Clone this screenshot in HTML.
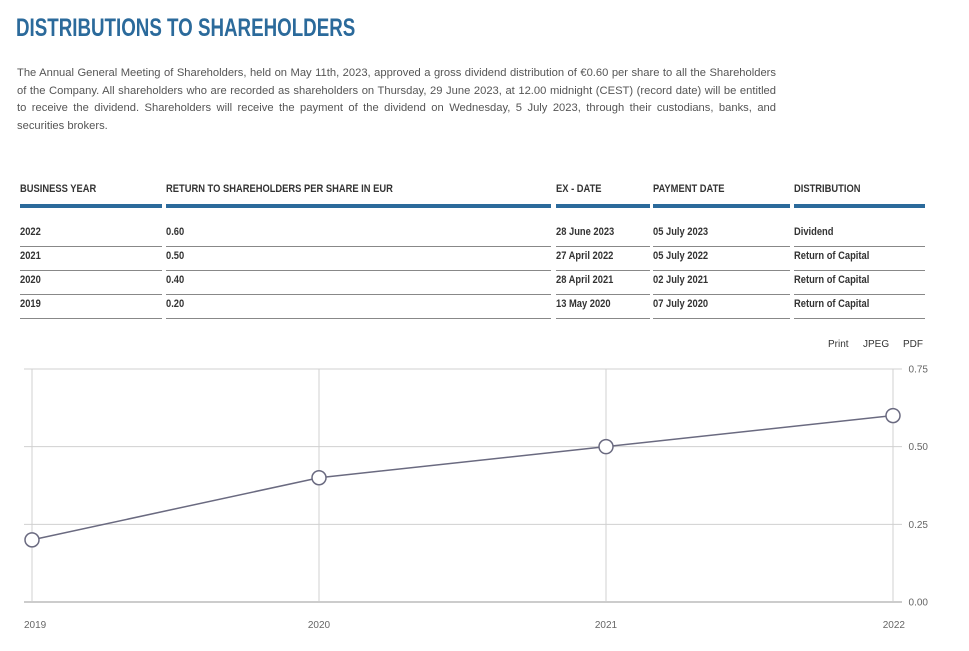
<!DOCTYPE html>
<html><head><meta charset="utf-8">
<style>
body{margin:0;width:969px;height:651px;background:#fff;position:relative;overflow:hidden;font-family:"Liberation Sans",sans-serif}
.a{position:absolute}
#title{left:16px;top:14px;font-size:25px;font-weight:bold;color:#2b6a9b;transform:scaleX(0.75);transform-origin:0 0;white-space:nowrap}
#para{left:17px;top:65px;width:759px;font-size:11.2px;line-height:17.6px;color:#555;text-align:justify}
.th,.td{font-weight:bold;font-size:11px;color:#333;white-space:nowrap;transform:scaleX(0.85);transform-origin:0 0}
.bar{height:4px;background:#2b6a9b}
.sep{height:1px;background:#888}
.t{font-size:10px;color:#666}
</style></head><body>
<div class="a" id="title">DISTRIBUTIONS TO SHAREHOLDERS</div>
<div class="a" id="para">The Annual General Meeting of Shareholders, held on May 11th, 2023, approved a gross dividend distribution of €0.60 per share to all the Shareholders of the Company. All shareholders who are recorded as shareholders on Thursday, 29 June 2023, at 12.00 midnight (CEST) (record date) will be entitled to receive the dividend. Shareholders will receive the payment of the dividend on Wednesday, 5 July 2023, through their custodians, banks, and securities brokers.</div>
<div id="table"></div>
<div class="a t" style="left:828px;top:339px;font-size:10px;color:#333">Print</div>
<div class="a t" style="left:863px;top:339px;font-size:10px;color:#333">JPEG</div>
<div class="a t" style="left:903px;top:339px;font-size:10px;color:#333">PDF</div>
<svg class="a" style="left:0;top:0" width="969" height="651" id="chart"></svg>
<script>
const cols=[[20,162],[166,551],[556,650],[653,790],[794,925]];
const headers=["BUSINESS YEAR","RETURN TO SHAREHOLDERS PER SHARE IN EUR","EX - DATE","PAYMENT DATE","DISTRIBUTION"];
const rows=[["2022","0.60","28 June 2023","05 July 2023","Dividend"],["2021","0.50","27 April 2022","05 July 2022","Return of Capital"],["2020","0.40","28 April 2021","02 July 2021","Return of Capital"],["2019","0.20","13 May 2020","07 July 2020","Return of Capital"]];
const tb=document.getElementById('table');
function mk(cls,l,t,w,txt){const d=document.createElement('div');d.className='a '+cls;d.style.left=l+'px';d.style.top=t+'px';if(w)d.style.width=w+'px';if(txt)d.textContent=txt;tb.appendChild(d);return d;}
cols.forEach((c,i)=>{
 const h=mk('th',c[0],183,0,headers[i]);
 
 
 const b=mk('bar',c[0],204,c[1]-c[0]);
 
 
 rows.forEach((r,j)=>{
  const d=mk('td',c[0],226+j*24,0,r[i]);
  
  
  const s=mk('sep',c[0],246+j*24,c[1]-c[0]);
  
  
 });
});
const years=["2019","2020","2021","2022"];
const values=[0.20,0.40,0.50,0.60];
const yTicks=[0,0.25,0.5,0.75];
const yLabels=["0.00","0.25","0.50","0.75"];
const X0=32,X1=893,Y0=602,Y1=369,YMAX=0.75;
const xs=i=>X0+(X1-X0)*i/(years.length-1);
const ys=v=>Y0-(Y0-Y1)*v/YMAX;
const svg=document.getElementById('chart');const NS='http://www.w3.org/2000/svg';
function el(t,a,txt){const e=document.createElementNS(NS,t);for(const k in a)e.setAttribute(k,a[k]);if(txt!==undefined)e.textContent=txt;svg.appendChild(e);return e;}
years.forEach((y,i)=>{
 const g=el('line',{x1:xs(i),x2:xs(i),y1:Y1,y2:Y0,stroke:'#d0d0d0','stroke-width':1});
 
 
 const t=el('text',{x:xs(i),y:628,'text-anchor':i==0?'start':(i==years.length-1?'end':'middle'),'font-size':10,fill:'#666','font-family':'Liberation Sans'},y);
 if(i==0)t.setAttribute('x',xs(i)-8);
 if(i==years.length-1)t.setAttribute('x',xs(i)+12);
 
 
});
yTicks.forEach((v,i)=>{
 const g=el('line',{x1:24,x2:902,y1:ys(v),y2:ys(v),stroke:v==0?'#ccc':'#d0d0d0','stroke-width':v==0?2:1});
 
 
 const t=el('text',{x:928,y:ys(v)+3.5,'text-anchor':'end','font-size':10,fill:'#666','font-family':'Liberation Sans'},yLabels[i]);
 
 
});
const p=el('polyline',{points:values.map((v,i)=>xs(i)+','+ys(v)).join(' '),fill:'none',stroke:'#6a6a80','stroke-width':1.5});


values.forEach((v,i)=>{
 const c=el('circle',{cx:xs(i),cy:ys(v),r:7,fill:'#fff',stroke:'#6a6a80','stroke-width':1.5});
 
 
});
</script>
</body></html>
